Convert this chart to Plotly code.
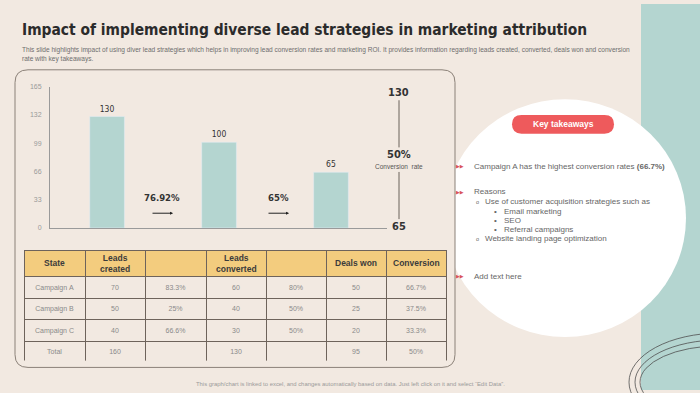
import plotly.graph_objects as go

W, H = 700, 393

# ---------------- data ----------------
stages = ["Leads converted", "Deals won stage", "Deals won"]
stage_values = [130, 100, 65]
step_rates = ["76.92%", "65%"]
y_ticks = [0, 33, 66, 99, 132, 165]
funnel_top = "130"
funnel_rate = "50%"
funnel_bottom = "65"

tbl_header = ["State", "Leads<br>created", "", "Leads<br>converted", "", "Deals won", "Conversion"]
states = ["Campaign A", "Campaign B", "Campaign C", "Total"]
leads_created = ["70", "50", "40", "160"]
created_pct = ["83.3%", "25%", "66.6%", ""]
leads_converted = ["60", "40", "30", "130"]
converted_pct = ["80%", "50%", "50%", ""]
deals_won = ["50", "25", "20", "95"]
conversion = ["66.7%", "37.5%", "33.3%", "50%"]

title = "Impact of implementing diverse lead strategies in marketing attribution"
subtitle = ("This slide highlights impact of using diver lead strategies which helps in improving lead conversion rates and "
            "marketing ROI. It provides information regarding leads created, converted, deals won and conversion<br>"
            "rate with key takeaways.")
footer = "This graph/chart is linked to excel, and changes automatically based on data. Just left click on it and select \u201cEdit Data\u201d."

# ---------------- helpers ----------------
def X(px):
    return px / W

def Y(py):
    return 1 - py / H

def nb(s):
    return s.replace(" ", "\u00a0")

BG = "#F2E9E1"
TEAL = "#B4D5D0"
RED = "#EE5A5C"
CONDENSED = "DejaVu Sans Condensed, Liberation Sans Narrow, sans-serif"
SANS = "Liberation Sans, Arial, sans-serif"

def rounded_path(x0, y0, x1, y1, r):
    rx, ry = r / W, r / H
    a0, a1 = X(x0), X(x1)
    b0, b1 = Y(y0), Y(y1)
    return (f"M{a0+rx},{b0} L{a1-rx},{b0} Q{a1},{b0} {a1},{b0-ry} "
            f"L{a1},{b1+ry} Q{a1},{b1} {a1-rx},{b1} "
            f"L{a0+rx},{b1} Q{a0},{b1} {a0},{b1+ry} "
            f"L{a0},{b0-ry} Q{a0},{b0} {a0+rx},{b0} Z")

fig = go.Figure()

# bars
fig.add_trace(go.Bar(
    x=stages, y=stage_values, marker_color=TEAL, width=0.31,
    text=[str(v) for v in stage_values], textposition="outside",
    textfont=dict(family=CONDENSED, size=8.5, color="#333333"),
    cliponaxis=False, hoverinfo="skip", showlegend=False,
))

# table (header labels drawn as centred annotations below)
col_edges = [24, 85, 145, 206, 266, 326, 386, 446]
col_w = [b - a for a, b in zip(col_edges[:-1], col_edges[1:])]
fig.add_trace(go.Table(
    domain=dict(x=[X(col_edges[0]), X(col_edges[-1])], y=[Y(364), Y(251)]),
    columnwidth=col_w,
    header=dict(
        values=[""] * len(tbl_header),
        fill_color="#F3CC7E", line=dict(color="#6E635B", width=1),
        font=dict(family=SANS, size=8.5, color="#3B3B3B"),
        align="center", height=26,
    ),
    cells=dict(
        values=[[nb(s) for s in states], leads_created, created_pct, leads_converted,
                converted_pct, deals_won, conversion],
        fill_color=BG, line=dict(color="#6E635B", width=1),
        font=dict(family=SANS, size=7, color="#8A8A8A"),
        align="center", height=21.5,
    ),
))

shapes = []
shapes.append(dict(type="rect", xref="paper", yref="paper", x0=X(641), x1=1, y0=0, y1=1,
                   fillcolor=TEAL, line_width=0, layer="below"))
shapes.append(dict(type="circle", xref="paper", yref="paper", x0=X(444), x1=X(686), y0=Y(339), y1=Y(97),
                   fillcolor="white", line_width=0, layer="below"))
shapes.append(dict(type="path", xref="paper", yref="paper", path=rounded_path(15, 67, 455, 370, 13),
                   fillcolor=BG, line=dict(color="#8B8178", width=1), layer="below"))
shapes.append(dict(type="path", xref="paper", yref="paper", path=rounded_path(512, 113, 614, 132, 9.5),
                   fillcolor=RED, line_width=0))
shapes.append(dict(type="line", xref="paper", yref="paper", x0=X(399), x1=X(399), y0=Y(98), y1=Y(146),
                   line=dict(color="#6B625B", width=1)))
shapes.append(dict(type="line", xref="paper", yref="paper", x0=X(399), x1=X(399), y0=Y(171), y1=Y(219),
                   line=dict(color="#6B625B", width=1)))
for (rx_, ry_) in [(91, 50), (85, 43), (80, 37)]:
    cx, cy = 720, 385
    shapes.append(dict(type="circle", xref="paper", yref="paper",
                       x0=X(cx - rx_), x1=X(cx + rx_), y0=Y(cy + ry_), y1=Y(cy - ry_),
                       line=dict(color="#4F4F4F", width=0.8), fillcolor="rgba(0,0,0,0)"))

ann = []
ann.append(dict(text=f"<b>{title}</b>", x=X(20), y=Y(26), xanchor="left", yanchor="middle",
                font=dict(family=CONDENSED, size=15.4, color="#2B2B2B")))
ann.append(dict(text=subtitle, x=X(20), y=Y(51), xanchor="left", yanchor="middle", align="left",
                font=dict(family=SANS, size=6.55, color="#6E6E6E")))
ann.append(dict(text=footer, x=0.5, y=Y(387), xanchor="center", yanchor="middle",
                font=dict(family=SANS, size=5.9, color="#9A9A9A")))

# table header labels
for h, a, b in zip(tbl_header, col_edges[:-1], col_edges[1:]):
    if h:
        ann.append(dict(text=f"<b>{h}</b>", x=X((a + b) / 2), y=Y(264), xanchor="center", yanchor="middle",
                        align="center", font=dict(family=SANS, size=8.5, color="#3B3B3B")))

# step rates and arrows
for rate, cx in zip(step_rates, [162, 278]):
    ann.append(dict(text=f"<b>{rate}</b>", x=X(cx), y=Y(197), xanchor="center", yanchor="middle",
                    font=dict(family=CONDENSED, size=9.5, color="#333333")))
    ann.append(dict(text="", x=X(cx + 11), y=Y(213), ax=-22, ay=0, showarrow=True,
                    arrowhead=2, arrowsize=0.6, arrowwidth=1, arrowcolor="#222222"))

# funnel labels
for txt, yy in [(funnel_top, 90), (funnel_rate, 153), (funnel_bottom, 227)]:
    ann.append(dict(text=f"<b>{txt}</b>", x=X(399), y=Y(yy), xanchor="center", yanchor="middle",
                    font=dict(family=CONDENSED, size=11, color="#333333")))
ann.append(dict(text="Conversion  rate", x=X(399), y=Y(165), xanchor="center", yanchor="middle",
                font=dict(family=SANS, size=6.5, color="#555555")))

ann.append(dict(text="<b>Key takeaways</b>", x=X(563), y=Y(122.5), xanchor="center", yanchor="middle",
                font=dict(family=SANS, size=8.5, color="white")))

TXT = dict(family=SANS, size=8, color="#666666")
for yy in [165, 191, 277]:
    ann.append(dict(text="\u25B6\u25B6", x=X(454), y=Y(yy), xanchor="left", yanchor="middle",
                    font=dict(family="DejaVu Sans", size=5, color="#D9535B")))
ann.append(dict(text="Campaign A has the highest conversion rates <b>(66.7%)</b>", x=X(472), y=Y(165),
                xanchor="left", yanchor="middle", font=TXT))
ann.append(dict(text="Reasons", x=X(472), y=Y(191), xanchor="left", yanchor="middle", font=TXT))
for txt, yy in [("Use of customer acquisition strategies such as", 201), ("Website landing page optimization", 239)]:
    ann.append(dict(text="o", x=X(474), y=Y(yy + 0.5), xanchor="left", yanchor="middle",
                    font=dict(family=SANS, size=5.5, color="#666666")))
    ann.append(dict(text=txt, x=X(483), y=Y(yy), xanchor="left", yanchor="middle", font=TXT))
for txt, yy in [("Email marketing", 211), ("SEO", 220.5), ("Referral campaigns", 230)]:
    ann.append(dict(text="\u2022", x=X(492), y=Y(yy), xanchor="left", yanchor="middle", font=TXT))
    ann.append(dict(text=txt, x=X(502), y=Y(yy), xanchor="left", yanchor="middle", font=TXT))
ann.append(dict(text="Add text here", x=X(472), y=Y(277), xanchor="left", yanchor="middle", font=TXT))

for a in ann:
    a.setdefault("xref", "paper")
    a.setdefault("yref", "paper")
    a.setdefault("showarrow", False)

fig.update_layout(
    width=W, height=H, margin=dict(l=0, r=0, t=0, b=0),
    paper_bgcolor=BG, plot_bgcolor="rgba(0,0,0,0)",
    shapes=shapes, annotations=ann, showlegend=False,
    xaxis=dict(domain=[X(50), X(387)], range=[-0.51, 2.5], showticklabels=False, showgrid=False,
               zeroline=False, showline=True, linecolor="#9A9A9A", linewidth=1, ticks="", fixedrange=True),
    yaxis=dict(domain=[Y(228), Y(84)], range=[0, 165], tickvals=y_ticks, showgrid=False, zeroline=False,
               showline=True, linecolor="#9A9A9A", linewidth=1, ticks="", ticklabelstandoff=6,
               tickfont=dict(family=SANS, size=7, color="#9A9A9A"), fixedrange=True),
)

fig.write_html("out.html", config={"displayModeBar": False},
               post_script="document.body.style.margin='0';document.body.style.overflow='hidden';")
